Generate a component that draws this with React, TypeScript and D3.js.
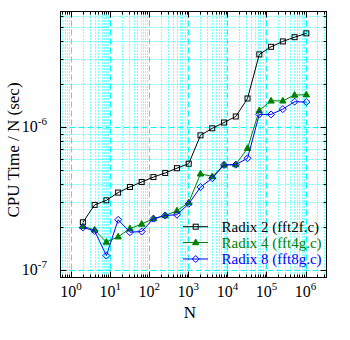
import React from 'react';
import * as d3 from 'd3';

const sizes = [2, 4, 8, 16, 32, 64, 128, 256, 512, 1024, 2048, 4096, 8192, 16384, 32768, 65536, 131072, 262144, 524288, 1048576];
const radix2 = [2.17e-7, 2.87e-7, 3.09e-7, 3.5e-7, 3.83e-7, 4.15e-7, 4.49e-7, 4.8e-7, 5.18e-7, 5.57e-7, 8.79e-7, 9.84e-7, 1.08e-6, 1.19e-6, 1.59e-6, 3.23e-6, 3.65e-6, 3.98e-6, 4.26e-6, 4.53e-6];
const radix4 = [2.03e-7, 1.92e-7, 1.58e-7, 1.72e-7, 1.96e-7, 2.11e-7, 2.3e-7, 2.42e-7, 2.61e-7, 2.98e-7, 4.73e-7, 4.54e-7, 5.46e-7, 5.5e-7, 7.14e-7, 1.31e-6, 1.53e-6, 1.53e-6, 1.68e-6, 1.69e-6];
const radix8 = [2.0e-7, 1.89e-7, 1.27e-7, 2.26e-7, 1.85e-7, 1.87e-7, 2.3e-7, 2.42e-7, 2.45e-7, 2.92e-7, 3.82e-7, 4.41e-7, 5.46e-7, 5.48e-7, 6.08e-7, 1.23e-6, 1.23e-6, 1.34e-6, 1.51e-6, 1.5e-6];
const seriesNames = ['Radix 2 (fft2f.c)', 'Radix 4 (fft4g.c)', 'Radix 8 (fft8g.c)'];
const seriesColors = ['#000000', '#008000', '#0000ff'];
const seriesMarkers = ['square', 'triangle', 'diamond'];
const xTickExps = [0, 1, 2, 3, 4, 5, 6];
const yTickExps = [-7, -6];
const xDomain = [0.535, 3.44e6];
const yDomain = [8.93e-8, 6.44e-6];
const xLabel = 'N';
const yLabel = 'CPU Time / N (sec)';

const L = 60.5, R = 326.5, T = 11.5, B = 277.5;
const FONT = '"Liberation Serif", "DejaVu Serif", serif';

function Marker({ type, x, y, color }: { type: string; x: number; y: number; color: string }) {
  if (type === 'square') {
    return <rect x={x - 2.5} y={y - 2.5} width={5} height={5} fill="none" stroke={color} strokeWidth={1} />;
  }
  if (type === 'triangle') {
    return <path d={`M${x},${y - 3.5}L${x + 3.2},${y + 2.2}L${x - 3.2},${y + 2.2}Z`} fill={color} stroke={color} strokeWidth={1} />;
  }
  return <path d={`M${x},${y - 3.5}L${x + 3.5},${y}L${x},${y + 3.5}L${x - 3.5},${y}Z`} fill="white" fillOpacity={0} stroke={color} strokeWidth={1} />;
}

export default function App() {
  const x = d3.scaleLog().domain(xDomain).range([L, R]);
  const y = d3.scaleLog().domain(yDomain).range([B, T]);

  const xMinor: number[] = [];
  for (let d = -1; d <= 6; d++) for (let m = 2; m <= 9; m++) {
    const v = m * Math.pow(10, d);
    if (v > xDomain[0] && v < xDomain[1]) xMinor.push(v);
  }
  const yMinor: number[] = [];
  for (let d = -8; d <= -6; d++) for (let m = 2; m <= 9; m++) {
    const v = m * Math.pow(10, d);
    if (v > yDomain[0] && v < yDomain[1]) yMinor.push(v);
  }
  const xMajor = xTickExps.map(e => Math.pow(10, e));
  const yMajor = yTickExps.map(e => Math.pow(10, e));

  const series = [radix2, radix4, radix8];
  const line = d3.line<number>().x((_, i) => x(sizes[i])).y(d => y(d));

  const cyan = '#00ffff';
  const legendY = [226.7, 242.5, 259];

  return (
    <svg width={350} height={340} style={{ position: 'absolute', left: 0, top: 0, background: 'white' }} fontFamily={FONT}>
      <rect x={0} y={0} width={350} height={340} fill="white" />
      {/* grid */}
      {xMinor.map((v, i) => (
        <line key={'gxm' + i} x1={Math.round(x(v)) + 0.5} x2={Math.round(x(v)) + 0.5} y1={T} y2={B} stroke={cyan} strokeDasharray="1,2" />
      ))}
      {yMinor.map((v, i) => (
        <line key={'gym' + i} y1={Math.round(y(v)) + 0.5} y2={Math.round(y(v)) + 0.5} x1={L} x2={R} stroke={cyan} strokeDasharray="1,2" />
      ))}
      {xMajor.map((v, i) => (
        <line key={'gxM' + i} x1={Math.round(x(v)) + 0.5} x2={Math.round(x(v)) + 0.5} y1={T} y2={B} stroke={cyan} strokeDasharray="6,3" />
      ))}
      {yMajor.map((v, i) => (
        <line key={'gyM' + i} y1={Math.round(y(v)) + 0.5} y2={Math.round(y(v)) + 0.5} x1={L} x2={R} stroke={cyan} strokeDasharray="6,3" />
      ))}
      {/* frame */}
      <rect x={L} y={T} width={R - L} height={B - T} fill="none" stroke="black" strokeWidth={1} />
      {/* ticks */}
      {xMinor.map((v, i) => {
        const px = Math.round(x(v)) + 0.5;
        return (
          <g key={'txm' + i}>
            <line x1={px} x2={px} y1={B} y2={B - 3} stroke="black" />
            <line x1={px} x2={px} y1={T} y2={T + 3} stroke="black" />
          </g>
        );
      })}
      {xMajor.map((v, i) => {
        const px = Math.round(x(v)) + 0.5;
        return (
          <g key={'txM' + i}>
            <line x1={px} x2={px} y1={B} y2={B - 6} stroke="black" />
            <line x1={px} x2={px} y1={T} y2={T + 6} stroke="black" />
          </g>
        );
      })}
      {yMinor.map((v, i) => {
        const py = Math.round(y(v)) + 0.5;
        return (
          <g key={'tym' + i}>
            <line y1={py} y2={py} x1={L} x2={L + 3} stroke="black" />
            <line y1={py} y2={py} x1={R} x2={R - 3} stroke="black" />
          </g>
        );
      })}
      {yMajor.map((v, i) => {
        const py = Math.round(y(v)) + 0.5;
        return (
          <g key={'tyM' + i}>
            <line y1={py} y2={py} x1={L} x2={L + 6} stroke="black" />
            <line y1={py} y2={py} x1={R} x2={R - 6} stroke="black" />
          </g>
        );
      })}
      {/* tick labels */}
      {xTickExps.map((e, i) => (
        <text key={'lx' + i} x={x(Math.pow(10, e))} y={297} textAnchor="middle" fontSize={16} fill="black">
          10<tspan fontSize={11} dy={-7}>{String(e)}</tspan>
        </text>
      ))}
      {yTickExps.map((e, i) => (
        <text key={'ly' + i} x={47} y={y(Math.pow(10, e)) + 5} textAnchor="end" fontSize={16} fill="black">
          10<tspan fontSize={11} dy={-7}>{String(e)}</tspan>
        </text>
      ))}
      {/* axis titles */}
      <text x={190} y={318} textAnchor="middle" fontSize={17} fill="black">{xLabel}</text>
      <text transform="translate(19,150) rotate(-90)" textAnchor="middle" fontSize={17} fill="black">{yLabel}</text>
      {/* series */}
      {series.map((s, si) => (
        <g key={'s' + si}>
          <path d={line(s) || ''} fill="none" stroke={seriesColors[si]} strokeWidth={1} />
          {s.map((v, i) => (
            <Marker key={i} type={seriesMarkers[si]} x={x(sizes[i])} y={y(v)} color={seriesColors[si]} />
          ))}
        </g>
      ))}
      {/* legend */}
      {seriesNames.map((name, si) => (
        <g key={'lg' + si}>
          <line x1={183} x2={208} y1={legendY[si]} y2={legendY[si]} stroke={seriesColors[si]} />
          <Marker type={seriesMarkers[si]} x={195.7} y={legendY[si]} color={seriesColors[si]} />
          <text x={221.5} y={legendY[si] + 5} fontSize={15} fill={seriesColors[si]}>{name}</text>
        </g>
      ))}
    </svg>
  );
}
